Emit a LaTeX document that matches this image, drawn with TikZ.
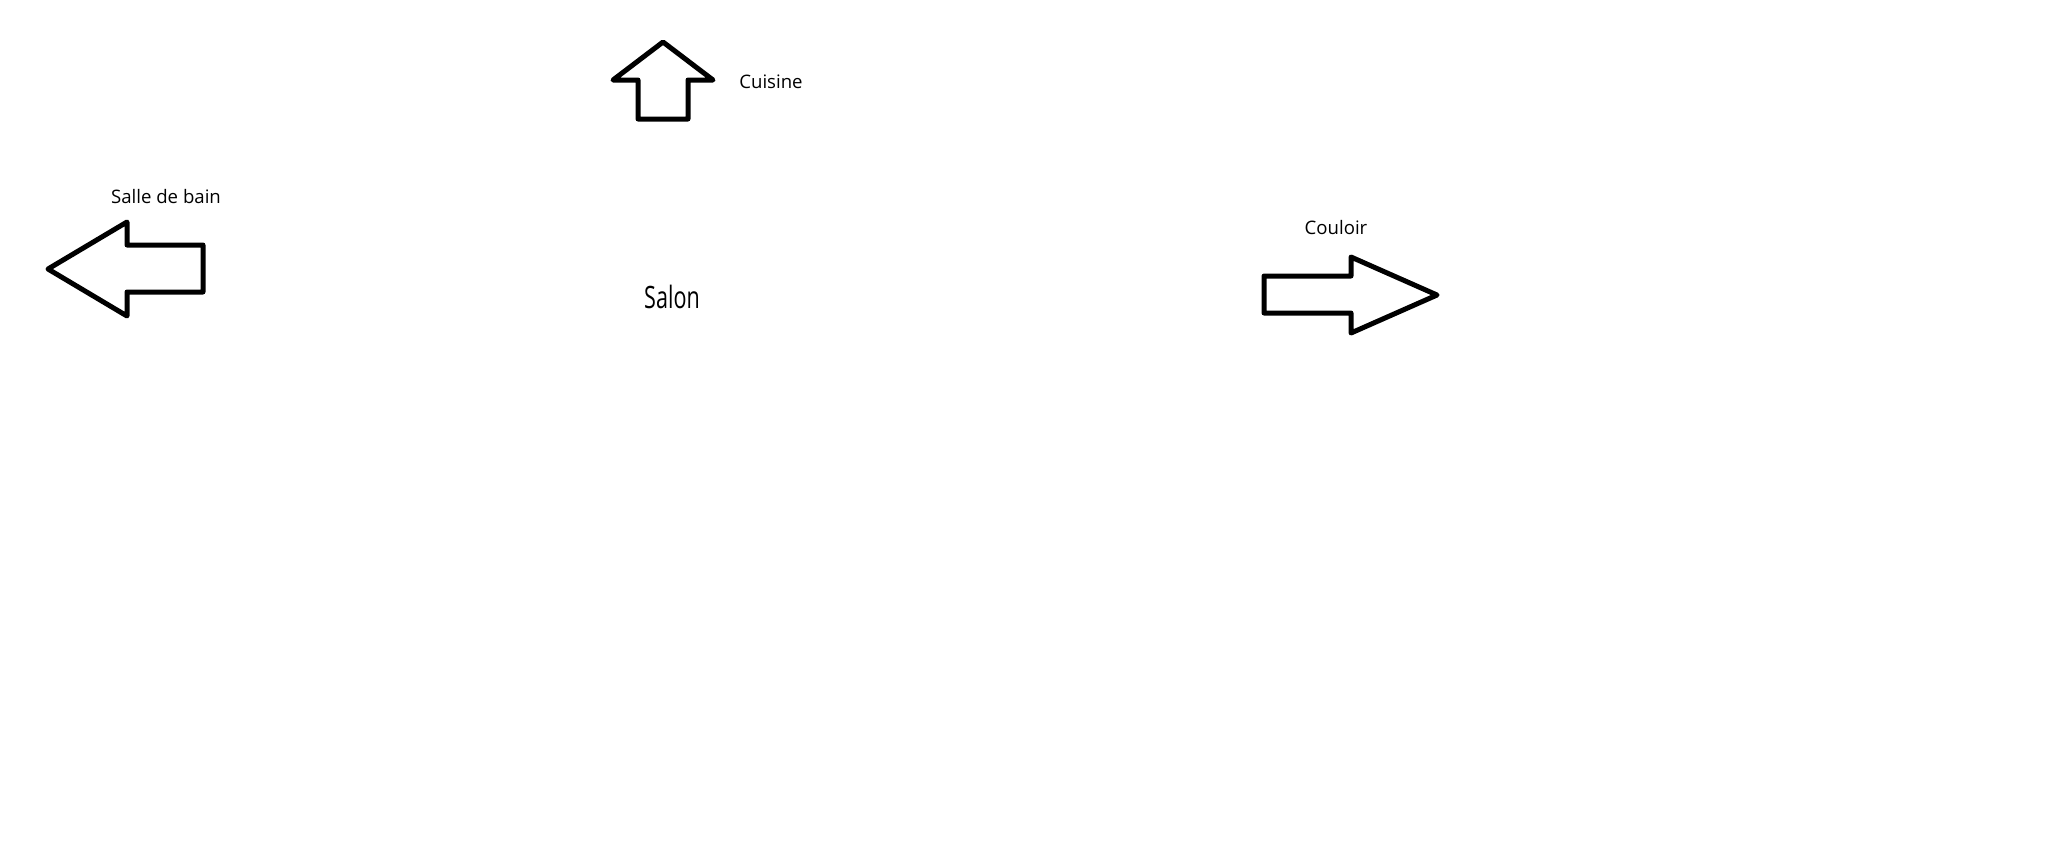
\documentclass[tikz,border=0pt]{standalone}
\usepackage{fontspec}
\setmainfont{Open Sans}
\usepackage{tikz}
\tikzset{room arrow/.style={
    draw=black,
    line width=2.5pt,
    line join=round,
    fill=white
  },
  room label/.style={
    anchor=base,
    inner sep=0pt,
    font=\fontsize{9.3pt}{11pt}\selectfont
  }
}

\begin{document}
\begin{tikzpicture}[x=0.5pt,y=-0.5pt]
        \useasboundingbox (0,0) rectangle (2064,864);
        % Cuisine, vers le haut
        \draw[room arrow] (663,42) -- (713,80) -- (688,80) -- (688,119)
            -- (638,119) -- (638,80) -- (613,80) -- cycle;
        % Salle de bain, vers la gauche
        \draw[room arrow] (48,269) -- (127,222) -- (127,245) -- (203,245)
            -- (203,292) -- (127,292) -- (127,316) -- cycle;
        % Couloir, vers la droite
        \draw[room arrow] (1437,295) -- (1351,333) -- (1351,313) -- (1264,313)
            -- (1264,276) -- (1351,276) -- (1351,257) -- cycle;
        \node[room label] (Cuisine) at (771,88) {Cuisine};
        \node[room label] (Bain) at (166,203) {Salle de bain};
        \node[room label] (Couloir) at (1336,234) {Couloir};
        \node[room label,font=\fontsize{15.4pt}{18pt}\selectfont] (Salon)
            at (672,308) {\scalebox{0.7}[1]{Salon}};
    \end{tikzpicture}
\end{document}
